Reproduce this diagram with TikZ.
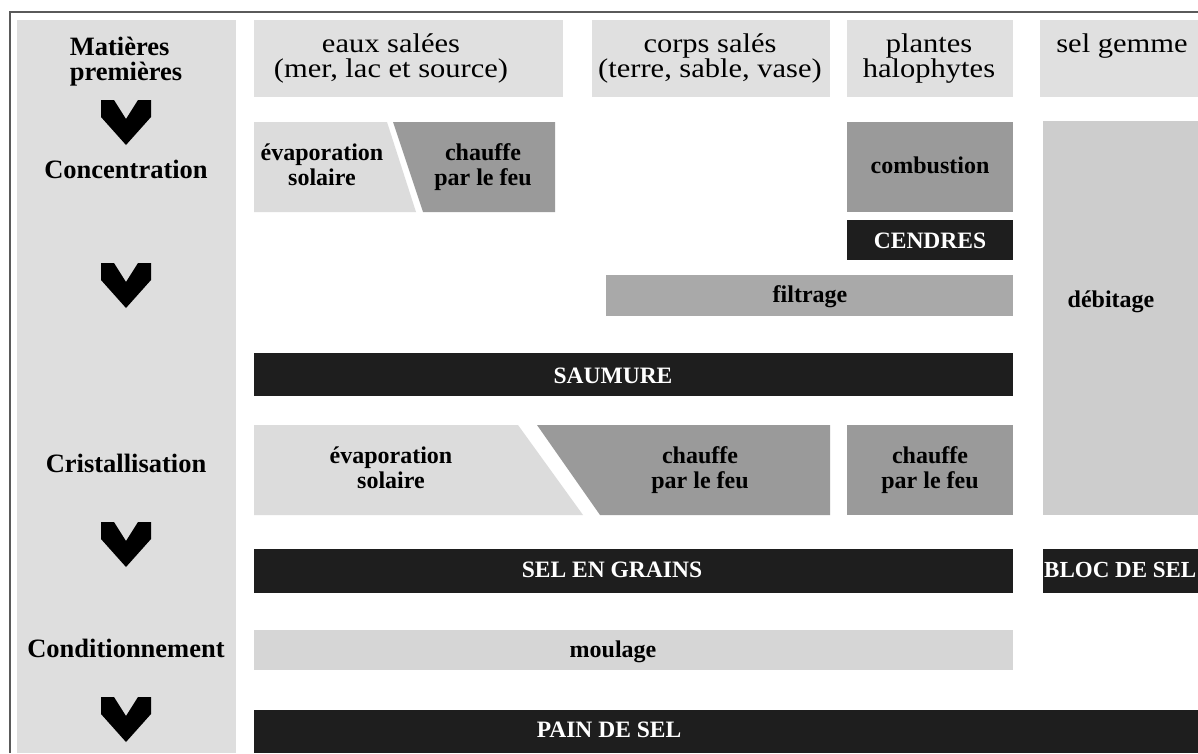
\documentclass[tikz,border=0pt]{standalone}
\usepackage{fontspec}
\setmainfont{Liberation Serif}
\newfontfamily\hdrfont{Liberation Serif}[FakeStretch=1.13]
\definecolor{colgray}{HTML}{DEDEDE}
\definecolor{hdrgray}{HTML}{E0E0E0}
\definecolor{lightgray}{HTML}{DCDCDC}
\definecolor{midgray}{HTML}{9A9A9A}
\definecolor{filtgray}{HTML}{A9A9A9}
\definecolor{debgray}{HTML}{CDCDCD}
\definecolor{moulgray}{HTML}{D6D6D6}
\definecolor{barblack}{HTML}{1E1E1E}
\definecolor{framegray}{HTML}{5A5A5A}
\begin{document}
\begin{tikzpicture}[
  x=1pt, y=-1pt,
  stagelbl/.style={font={\fontsize{26.5}{25}\selectfont\bfseries}, align=center, inner sep=0pt, anchor=base},
  srclbl/.style={font={\hdrfont\fontsize{27}{25}\selectfont}, align=center, inner sep=0pt, anchor=base},
  proclbl/.style={font={\fontsize{24}{25}\selectfont\bfseries}, align=center, inner sep=0pt, anchor=base},
  prodlbl/.style={font={\fontsize{23.5}{25}\selectfont\bfseries}, text=white, inner sep=0pt, anchor=base},
  chev/.style={fill=black}
]
\useasboundingbox (0,0) rectangle (1198,753);
\fill[white] (0,0) rectangle (1198,753);
\draw[framegray, line width=1.5pt] (10,753) -- (10,12) -- (1198,12);
\fill[colgray] (17,20) rectangle (236,753);
\fill[hdrgray] (254,20) rectangle (563,97);
\fill[hdrgray] (592,20) rectangle (830,97);
\fill[hdrgray] (847,20) rectangle (1013,97);
\fill[hdrgray] (1040,20) rectangle (1198,97);
\fill[lightgray] (254,122) -- (387,122) -- (416,212) -- (254,212) -- cycle;
\fill[midgray] (393,122) -- (555,122) -- (555,212) -- (423,212) -- cycle;
\fill[midgray] (847,122) rectangle (1013,212);
\fill[barblack] (847,220) rectangle (1013,260);
\fill[filtgray] (606,275) rectangle (1013,316);
\fill[debgray] (1043,121) rectangle (1198,515);
\fill[barblack] (254,353) rectangle (1013,396);
\fill[lightgray] (254,425) -- (518,425) -- (583,515) -- (254,515) -- cycle;
\fill[midgray] (537,425) -- (830,425) -- (830,515) -- (600,515) -- cycle;
\fill[midgray] (847,425) rectangle (1013,515);
\fill[barblack] (254,549) rectangle (1013,593);
\fill[barblack] (1043,549) rectangle (1198,593);
\fill[moulgray] (254,630) rectangle (1013,670);
\fill[barblack] (254,710) rectangle (1198,753);
\foreach \cy in {100,263,522,697}
  \fill[chev] (101,\cy) -- (114,\cy) -- (126,{\cy+19}) -- (138,\cy) -- (151,\cy) -- (151,{\cy+17}) -- (126,{\cy+45}) -- (101,{\cy+17}) -- cycle;
\node[stagelbl, align=left] (matieres) at (126,80) {Matières\\premières};
\node[stagelbl] (concentration) at (126,178) {Concentration};
\node[stagelbl] (cristallisation) at (126,472) {Cristallisation};
\node[stagelbl] (conditionnement) at (126,657) {Conditionnement};
\node[srclbl] (eaux) at (391,77) {eaux salées\\(mer, lac et source)};
\node[srclbl] (corps) at (710,77) {corps salés\\(terre, sable, vase)};
\node[srclbl] (plantes) at (929,77) {plantes\\halophytes};
\node[srclbl] (gemme) at (1122,52) {sel gemme};
\node[proclbl] (evapconc) at (322,185) {évaporation\\solaire};
\node[proclbl] (feuconc) at (483,185) {chauffe\\par le feu};
\node[proclbl] (combustion) at (930,173) {combustion};
\node[prodlbl] (cendres) at (930,248) {CENDRES};
\node[proclbl] (filtrage) at (810,302) {filtrage};
\node[proclbl] (debitage) at (1111,307) {débitage};
\node[prodlbl] (saumure) at (613,383) {SAUMURE};
\node[proclbl] (evapcrist) at (391,488) {évaporation\\solaire};
\node[proclbl] (feucrist) at (700,488) {chauffe\\par le feu};
\node[proclbl] (feuplant) at (930,488) {chauffe\\par le feu};
\node[prodlbl] (grains) at (612,577) {SEL EN GRAINS};
\node[prodlbl, font={\fontsize{23}{25}\selectfont\bfseries}, anchor=base west] (bloc) at (1044,577) {BLOC DE SEL};
\node[proclbl] (moulage) at (613,657) {moulage};
\node[prodlbl] (pain) at (609,737) {PAIN DE SEL};
\end{tikzpicture}
\end{document}
